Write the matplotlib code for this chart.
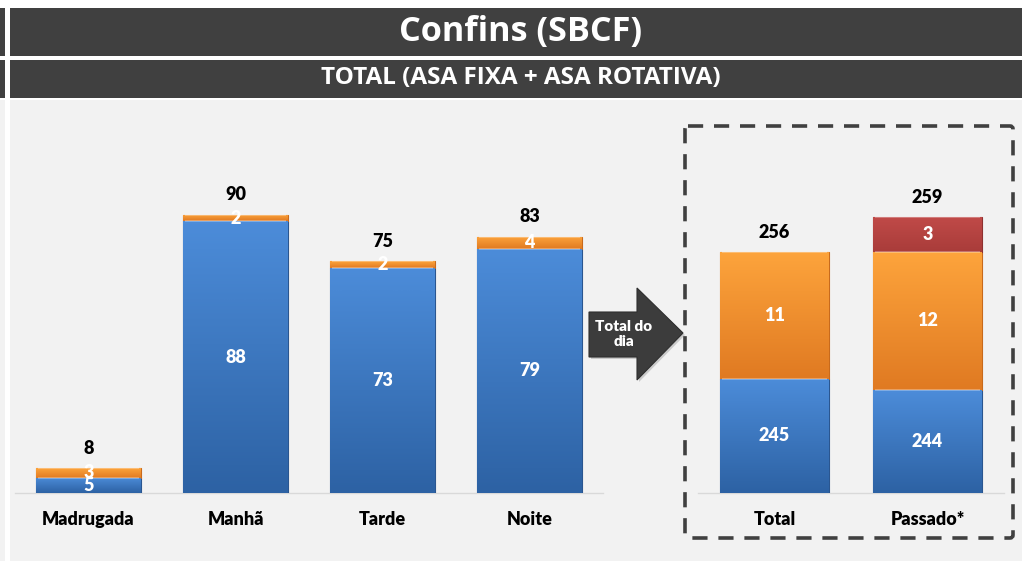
import matplotlib
matplotlib.use("Agg")
import matplotlib.pyplot as plt
import numpy as np
from matplotlib.patches import Rectangle, Polygon, FancyBboxPatch
from matplotlib.colors import LinearSegmentedColormap

# ---------------- data ----------------
title = "Confins (SBCF)"
subtitle = "TOTAL (ASA FIXA + ASA ROTATIVA)"
periods = ["Madrugada", "Manhã", "Tarde", "Noite"]
period_fixa = [5, 88, 73, 79]
period_rot = [3, 2, 2, 4]
period_total = [8, 90, 75, 83]

summary = ["Total", "Passado*"]
summary_fixa = [245, 244]
summary_rot = [11, 12]
summary_extra = [0, 3]
summary_total = [256, 259]
arrow_text = "Total do\ndia"

W, H = 1022, 561
fig = plt.figure(figsize=(W / 100, H / 100), dpi=100, facecolor="white")

# background / decoration axes in pixel coordinates
bg = fig.add_axes([0, 0, 1, 1], zorder=0)
bg.set_xlim(0, W)
bg.set_ylim(H, 0)
bg.axis("off")
DARK = "#404040"
LIGHT = "#f2f2f2"
bg.add_patch(Rectangle((10, 100), W - 10, H - 100, color=LIGHT, lw=0))
bg.add_patch(Rectangle((0, 100), 5, H - 100, color=LIGHT, lw=0))
bg.add_patch(Rectangle((10, 8), W - 10, 48, color=DARK, lw=0))
bg.add_patch(Rectangle((0, 8), 5, 48, color=DARK, lw=0))
bg.add_patch(Rectangle((10, 60), W - 10, 38, color=DARK, lw=0))
bg.add_patch(Rectangle((0, 60), 5, 38, color=DARK, lw=0))
bg.text(521, 32, title, color="white", fontsize=24.7, fontweight="bold",
        family="Open Sans", ha="center", va="center")
bg.text(521, 78, subtitle, color="white", fontsize=17.5, fontweight="bold",
        family="Open Sans", ha="center", va="center")

# arrow
arrow_pts = [(589, 312), (637, 312), (637, 288), (683, 333), (637, 380), (637, 357), (589, 357)]
shadow = Polygon([(x + 2, y + 2) for x, y in arrow_pts], closed=True, color="#b0b0b0", lw=0, alpha=0.6)
bg.add_patch(shadow)
bg.add_patch(Polygon(arrow_pts, closed=True, facecolor="#3c3c3c", edgecolor="#2e2e2e", lw=0.8))
bg.text(624, 334, arrow_text, color="white", fontsize=11, fontweight=800,
        family="Lato", ha="center", va="center", linespacing=1.2)

# dashed box
box = FancyBboxPatch((685, 126), 1013 - 685, 538 - 126,
                     boxstyle="round,pad=0,rounding_size=3",
                     fill=False, edgecolor="#404040", lw=2.6,
                     linestyle=(0, (4.2, 3.0)))
bg.add_patch(box)

BLUE = ("#4c8cd9", "#2d62a4", "#2a5690")
ORANGE = ("#fda43c", "#e07a22", "#c86a1c")
RED = ("#c04a48", "#a93c3a", "#8e3030")


def grad_bar(ax, x, bottom, height, width, cols, ylo):
    top = bottom + height
    bars = ax.bar(x, height, bottom=bottom, width=width, color=cols[1],
                  edgecolor=cols[2], linewidth=0.8, zorder=3)
    patch = bars[0]
    vis_bot = max(bottom, ylo)
    cmap = LinearSegmentedColormap.from_list("g", [cols[1], cols[0]])
    grad = np.linspace(0, 1, 64).reshape(-1, 1)
    im = ax.imshow(grad, cmap=cmap, aspect="auto", origin="lower",
                   extent=(x - width / 2, x + width / 2, vis_bot, top),
                   zorder=3.5, interpolation="bicubic")
    im.set_clip_path(patch)
    ax.plot([x - width / 2 + 0.01, x + width / 2 - 0.01], [top, top],
            color="white", alpha=0.35, lw=1.2, zorder=4, solid_capstyle="butt")
    return patch


def style(ax):
    ax.set_facecolor("none")
    for s in ["top", "left", "right"]:
        ax.spines[s].set_visible(False)
    ax.spines["bottom"].set_color("#d9d9d9")
    ax.spines["bottom"].set_linewidth(1.0)
    ax.spines["bottom"].set_zorder(2)
    ax.set_yticks([])
    ax.set_xticks([])


LBL = dict(family="Lato", fontweight=800)
FS = 13
base_y = 493
top_y = 120

# ---------- left axes ----------
axL = fig.add_axes([15 / W, (H - base_y) / H, 588 / W, (base_y - top_y) / H], zorder=1)
style(axL)
sL = 278 / 90.0
axL.set_ylim(0, (base_y - top_y) / sL)
axL.set_xlim(-0.5, len(periods) - 0.5)
bw = 0.71
for i, p in enumerate(periods):
    grad_bar(axL, i, 0, period_fixa[i], bw, BLUE, 0)
    grad_bar(axL, i, period_fixa[i], period_rot[i], bw, ORANGE, 0)
    axL.text(i, period_fixa[i] / 2, str(period_fixa[i]), color="white",
             fontsize=FS, ha="center", va="center", zorder=6, **LBL)
    axL.text(i, period_fixa[i] + period_rot[i] / 2, str(period_rot[i]), color="white",
             fontsize=FS, ha="center", va="center", zorder=6, **LBL)
    axL.annotate(str(period_total[i]), xy=(i, period_total[i]), xytext=(0, 14.4),
                 textcoords="offset points", ha="center", va="center",
                 fontsize=FS, color="black", zorder=6, **LBL)
    axL.annotate(p, xy=(i, 0), xycoords=("data", "axes fraction"), xytext=(0, -19),
                 textcoords="offset points", ha="center", va="center",
                 fontsize=FS, color="black", **LBL)

# ---------- right axes ----------
axR = fig.add_axes([698 / W, (H - base_y) / H, 306 / W, (base_y - top_y) / H], zorder=1)
style(axR)
sR = 11.55
y0 = 235.1
axR.set_ylim(y0, y0 + (base_y - top_y) / sR)
axR.set_xlim(-0.5, len(summary) - 0.5)
for i, s in enumerate(summary):
    grad_bar(axR, i, 0, summary_fixa[i], bw, BLUE, y0)
    grad_bar(axR, i, summary_fixa[i], summary_rot[i], bw, ORANGE, y0)
    axR.text(i, (y0 + summary_fixa[i]) / 2, str(summary_fixa[i]), color="white",
             fontsize=FS, ha="center", va="center", zorder=6, **LBL)
    axR.text(i, summary_fixa[i] + summary_rot[i] / 2, str(summary_rot[i]), color="white",
             fontsize=FS, ha="center", va="center", zorder=6, **LBL)
    if summary_extra[i]:
        b = summary_fixa[i] + summary_rot[i]
        grad_bar(axR, i, b, summary_extra[i], bw, RED, y0)
        axR.text(i, b + summary_extra[i] / 2, str(summary_extra[i]), color="white",
                 fontsize=FS, ha="center", va="center", zorder=6, **LBL)
    axR.annotate(str(summary_total[i]), xy=(i, summary_total[i]), xytext=(0, 14),
                 textcoords="offset points", ha="center", va="center",
                 fontsize=FS, color="black", zorder=6, **LBL)
    axR.annotate(s, xy=(i, 0), xycoords=("data", "axes fraction"), xytext=(0, -19),
                 textcoords="offset points", ha="center", va="center",
                 fontsize=FS, color="black", **LBL)

fig.savefig("out.png", dpi=100, facecolor="white")
